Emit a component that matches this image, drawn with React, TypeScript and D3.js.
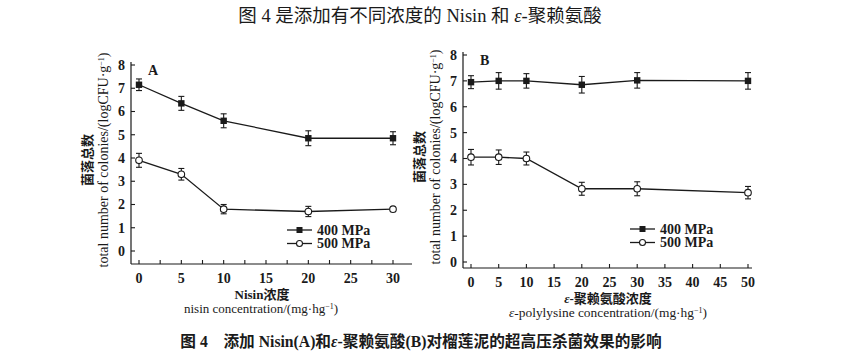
import React from "react";
import * as d3 from "d3";

const concA = [0, 5, 10, 20, 30];
const a400 = [7.15, 6.35, 5.6, 4.85, 4.85];
const a400err = [0.25, 0.3, 0.3, 0.32, 0.28];
const a500 = [3.9, 3.3, 1.8, 1.7, 1.8];
const a500err = [0.3, 0.25, 0.2, 0.22, 0];

const concB = [0, 5, 10, 20, 30, 50];
const b400 = [6.95, 7.0, 7.0, 6.85, 7.02, 7.0];
const b400err = [0.25, 0.32, 0.28, 0.32, 0.3, 0.32];
const b500 = [4.05, 4.05, 4.0, 2.83, 2.83, 2.68];
const b500err = [0.3, 0.28, 0.25, 0.25, 0.27, 0.24];

const yTicks = [0, 1, 2, 3, 4, 5, 6, 7, 8];
const xTickLabelsA = [0, 5, 10, 15, 20, 25, 30];
const xTickLabelsB = [0, 5, 10, 15, 20, 25, 30, 35, 40, 45, 50];
const seriesNames = ["400 MPa", "500 MPa"];

const SERIF = "'Liberation Serif', 'Times New Roman', serif";
const CJK = "'Liberation Serif', 'Noto Sans CJK SC', serif";
const INK = "#1a1a1a";

type PanelProps = {
  letter: string;
  x: number[];
  s1: number[]; e1: number[];
  s2: number[]; e2: number[];
  xMax: number;
  xRange: [number, number];
  yRange: [number, number];
  axisX: number; axisY: number; axisEnd: number;
  minorStep: number;
  xLabels: number[];
  label1: React.ReactNode; label2: React.ReactNode;
  label1X: number; label2X: number; label2Size: number;
  yLab1X: number; yLab2X: number; yLabY: number;
  legendX: number; legendY: number;
};

const sup = <><tspan dy="-4" fontSize={8}>−1</tspan><tspan dy="4">)</tspan></>;

function Panel(p: PanelProps) {
  const x = d3.scaleLinear().domain([0, p.xMax]).range(p.xRange);
  const y = d3.scaleLinear().domain([0, 8]).range(p.yRange);
  const line = d3.line<[number, number]>().x(d => x(d[0])).y(d => y(d[1]));
  const minor = d3.range(0, p.xMax + 0.001, p.minorStep);
  const pts1 = p.x.map((c, i) => [c, p.s1[i]] as [number, number]);
  const pts2 = p.x.map((c, i) => [c, p.s2[i]] as [number, number]);
  const cap = 3;
  const errs = (vals: number[], errs: number[]) =>
    p.x.map((c, i) => errs[i] > 0 ? (
      <g key={i} stroke={INK} strokeWidth={1.1}>
        <line x1={x(c)} x2={x(c)} y1={y(vals[i] - errs[i])} y2={y(vals[i] + errs[i])} />
        <line x1={x(c) - cap} x2={x(c) + cap} y1={y(vals[i] - errs[i])} y2={y(vals[i] - errs[i])} />
        <line x1={x(c) - cap} x2={x(c) + cap} y1={y(vals[i] + errs[i])} y2={y(vals[i] + errs[i])} />
      </g>
    ) : null);
  const lx = p.legendX;
  const ly1 = p.legendY;
  const ly2 = ly1 + 13.5;
  return (
    <g>
      <line x1={p.axisX} x2={p.axisX} y1={y(8) - 3} y2={p.axisY} stroke={INK} strokeWidth={1.2} />
      <line x1={p.axisX} x2={p.axisEnd} y1={p.axisY} y2={p.axisY} stroke={INK} strokeWidth={1.2} />
      {yTicks.map(t => (
        <g key={t}>
          <line x1={p.axisX} x2={p.axisX + 4} y1={y(t)} y2={y(t)} stroke={INK} strokeWidth={1.1} />
          <text x={p.axisX - 6} y={y(t)} dy="0.35em" textAnchor="end" fontFamily={SERIF} fontWeight="bold" fontSize={14} fill={INK}>{t}</text>
        </g>
      ))}
      {minor.map(t => (
        <line key={t} x1={x(t)} x2={x(t)} y1={p.axisY} y2={p.axisY - 4} stroke={INK} strokeWidth={1.1} />
      ))}
      {p.xLabels.map(t => (
        <text key={t} x={x(t)} y={p.axisY + 19} textAnchor="middle" fontFamily={SERIF} fontWeight="bold" fontSize={14} fill={INK}>{t}</text>
      ))}
      <path d={line(pts1) || ""} fill="none" stroke={INK} strokeWidth={1.3} />
      <path d={line(pts2) || ""} fill="none" stroke={INK} strokeWidth={1.3} />
      {errs(p.s1, p.e1)}
      {errs(p.s2, p.e2)}
      {pts1.map((d, i) => (
        <rect key={i} x={x(d[0]) - 3.2} y={y(d[1]) - 3.2} width={6.4} height={6.4} fill={INK} />
      ))}
      {pts2.map((d, i) => (
        <circle key={i} cx={x(d[0])} cy={y(d[1])} r={3.3} fill="#fff" stroke={INK} strokeWidth={1.1} />
      ))}
      <text x={x(0) + 9} y={y(8) + 10} fontFamily={SERIF} fontWeight="bold" fontSize={14} fill={INK}>{p.letter}</text>
      <line x1={lx} x2={lx + 25} y1={ly1} y2={ly1} stroke={INK} strokeWidth={1.3} />
      <rect x={lx + 12.5 - 3} y={ly1 - 3} width={6} height={6} fill={INK} />
      <text x={lx + 30} y={ly1} dy="0.35em" fontFamily={SERIF} fontWeight="bold" fontSize={14} fill={INK}>{seriesNames[0]}</text>
      <line x1={lx} x2={lx + 25} y1={ly2} y2={ly2} stroke={INK} strokeWidth={1.3} />
      <circle cx={lx + 12.5} cy={ly2} r={3} fill="#fff" stroke={INK} strokeWidth={1.1} />
      <text x={lx + 30} y={ly2} dy="0.35em" fontFamily={SERIF} fontWeight="bold" fontSize={14} fill={INK}>{seriesNames[1]}</text>
      <text x={p.label1X} y={p.axisY + 35} textAnchor="middle" fontFamily={CJK} fontWeight="bold" fontSize={13} fill={INK}>{p.label1}</text>
      <text x={p.label2X} y={p.axisY + 49} textAnchor="middle" fontFamily={SERIF} fontSize={p.label2Size} fill={INK}>{p.label2}</text>
      <text transform={`translate(${p.yLab1X},${p.yLabY}) rotate(-90)`} dy="0.35em" textAnchor="middle" fontFamily={CJK} fontWeight="bold" fontSize={13} fill={INK}>菌落总数</text>
      <text transform={`translate(${p.yLab2X},${p.yLabY}) rotate(-90)`} dy="0.35em" textAnchor="middle" fontFamily={SERIF} fontSize={14} fill={INK}>
        total number of colonies/(logCFU·g{sup}
      </text>
    </g>
  );
}

export default function App() {
  return (
    <svg width={849} height={354} style={{ position: "absolute", left: 0, top: 0, background: "#fff" }}>
      <rect width={849} height={354} fill="#fff" />
      <text x={420} y={22} textAnchor="middle" fontFamily={CJK} fontSize={18.5} fill={INK}>
        图 4 是添加有不同浓度的 Nisin 和 <tspan fontStyle="italic">ε</tspan>-聚赖氨酸
      </text>
      <Panel
        letter="A" x={concA} s1={a400} e1={a400err} s2={a500} e2={a500err}
        xMax={30} xRange={[139, 393]} yRange={[251, 65]}
        axisX={131} axisY={264} axisEnd={412} minorStep={2.5} xLabels={xTickLabelsA}
        label1="Nisin浓度"
        label2={<>nisin concentration/(mg·hg{sup}</>}
        label1X={262} label2X={261} label2Size={13}
        yLab1X={87} yLab2X={103} yLabY={160}
        legendX={287} legendY={230}
      />
      <Panel
        letter="B" x={concB} s1={b400} e1={b400err} s2={b500} e2={b500err}
        xMax={50} xRange={[471, 748]} yRange={[262, 55]}
        axisX={463} axisY={268} axisEnd={752} minorStep={5} xLabels={xTickLabelsB}
        label1={<><tspan fontStyle="italic">ε</tspan>-聚赖氨酸浓度</>}
        label2={<><tspan fontStyle="italic">ε</tspan>-polylysine concentration/(mg·hg{sup}</>}
        label1X={608} label2X={608} label2Size={13.4}
        yLab1X={419} yLab2X={435} yLabY={157}
        legendX={630} legendY={229}
      />
      <text x={421} y={347} textAnchor="middle" fontFamily={CJK} fontWeight="bold" fontSize={15.7} fill={INK}>
        图 4　添加 Nisin(A)和<tspan fontStyle="italic">ε</tspan>-聚赖氨酸(B)对榴莲泥的超高压杀菌效果的影响
      </text>
    </svg>
  );
}
